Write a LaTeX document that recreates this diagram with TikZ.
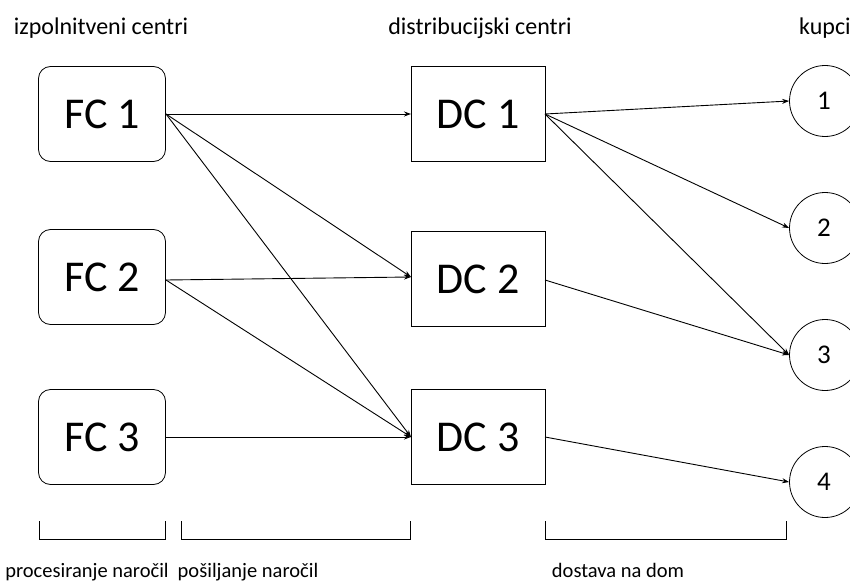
\documentclass[tikz,border=0pt]{standalone}
\usepackage{fontspec}
\setmainfont{Carlito}
\usetikzlibrary{arrows.meta}
\tikzset{
  fcbox/.style={draw, thick, rounded corners=12pt, minimum width=127pt, minimum height=95pt, inner sep=0pt, font=\fontsize{44}{48}\selectfont},
  dcbox/.style={draw, thick, minimum width=134pt, minimum height=95pt, inner sep=0pt, font=\fontsize{44}{48}\selectfont},
  cust/.style={draw, thick, circle, minimum size=71pt, inner sep=0pt, font=\fontsize{27}{30}\selectfont},
  toplbl/.style={font=\fontsize{24}{28}\selectfont, inner sep=0pt, anchor=base},
  botlbl/.style={font=\fontsize{20.5}{24}\selectfont, inner sep=0pt, anchor=base},
  conn/.style={draw, line width=0.9pt, -{Stealth[length=7pt,width=5pt]}},
  brk/.style={draw, line width=0.8pt}
}
\begin{document}
\begin{tikzpicture}[x=1pt,y=-1pt]
\useasboundingbox (0,0) rectangle (850,583);
\clip (0,0) rectangle (850,583);
\fill[white] (0,0) rectangle (850,583);
% headers
\node[toplbl] (h1) at (101,35) {izpolnitveni centri};
\node[toplbl] (h2) at (480,35) {distribucijski centri};
\node[toplbl, anchor=base west] (h3) at (799,35) {kupci};
% FC
\node[fcbox] (fc1) at (102,114) {FC 1};
\node[fcbox] (fc2) at (102,277) {FC 2};
\node[fcbox] (fc3) at (102,437) {FC 3};
% DC
\node[dcbox] (dc1) at (478,114) {DC 1};
\node[dcbox] (dc2) at (478,279) {DC 2};
\node[dcbox] (dc3) at (478,437) {DC 3};
% customers
\node[cust] (c1) at (825,101) {\hspace*{-2pt}1};
\node[cust] (c2) at (825,228) {\hspace*{-2pt}2};
\node[cust] (c3) at (825,355) {\hspace*{-2pt}3};
\node[cust] (c4) at (825,482) {\hspace*{-2pt}4};
% connectors FC -> DC
\coordinate (f1) at (166,114);
\coordinate (f2) at (166,280);
\coordinate (f3) at (166,437);
\coordinate (d1i) at (411,114);
\coordinate (d2i) at (411,277);
\coordinate (d3i) at (411,437);
\draw[conn] (f1) -- (d1i);
\draw[conn] (f1) -- (d2i);
\draw[conn] (f1) -- (d3i);
\draw[conn] (f2) -- (d2i);
\draw[conn] (f2) -- (d3i);
\draw[conn] (f3) -- (d3i);
% DC -> customers
\coordinate (d1o) at (545,114);
\coordinate (d2o) at (545,280);
\coordinate (d3o) at (545,437);
\draw[conn] (d1o) -- (c1.west);
\draw[conn] (d1o) -- (c2.west);
\draw[conn] (d1o) -- (c3.west);
\draw[conn] (d2o) -- (c3.west);
\draw[conn] (d3o) -- (c4.west);
% brackets
\draw[brk] (39,521) -- (39,539) -- (165,539) -- (165,521);
\draw[brk] (181,521) -- (181,539) -- (410,539) -- (410,521);
\draw[brk] (545,521) -- (545,539) -- (786,539) -- (786,521);
\node[botlbl] (b1) at (87,577) {procesiranje naročil};
\node[botlbl] (b2) at (248,577) {pošiljanje naročil};
\node[botlbl] (b3) at (618,577) {dostava na dom};
\end{tikzpicture}
\end{document}
